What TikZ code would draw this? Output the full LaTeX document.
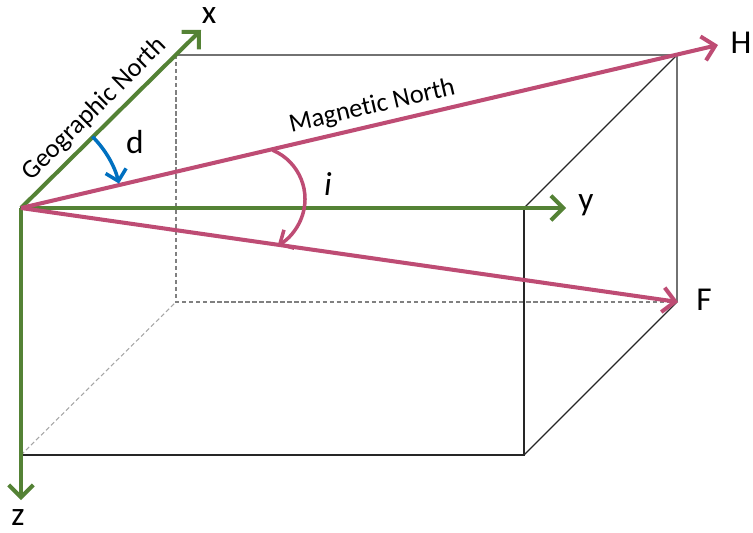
\documentclass[tikz,border=0pt]{standalone}
\usepackage{fontspec}
\setmainfont[Ligatures=NoCommon]{Carlito}
\usetikzlibrary{arrows.meta}
\definecolor{verde}{RGB}{84,130,53}
\definecolor{rosa}{RGB}{190,76,116}
\definecolor{blu}{RGB}{0,112,192}
\begin{document}
\begin{tikzpicture}[x=0.02cm,y=0.02cm,
        edge/.style={black!85,line width=0.7pt},
        hidden/.style={gray,line width=0.6pt,dash pattern=on 2.5pt off 1.5pt},
        axis/.style={verde,line width=2.3pt,-{Straight Barb[length=7pt,width=14pt]}},
        vec/.style={rosa,line width=2.3pt,-{Straight Barb[length=7pt,width=14pt]}},
        axlabel/.style={font=\fontsize{19}{22}\selectfont,inner sep=1pt},
        dirlabel/.style={font=\fontsize{15}{17}\selectfont,sloped,above,inner sep=3pt}]
        \useasboundingbox (0,0) rectangle (753,-533);

        % scatola
        \coordinate (O) at (21,-208);
        \coordinate (B) at (524,-208);
        \coordinate (C) at (524,-455);
        \coordinate (D) at (21,-455);
        \coordinate (E) at (176,-55);
        \coordinate (G) at (677,-55);
        \coordinate (K) at (677,-302);
        \coordinate (L) at (176,-302);
        \draw[hidden] (E) -- (L) -- (K);
        \draw[hidden,gray!70] (D) -- (L);
        \draw[edge] (O) rectangle (C);
        \draw[edge] (O) -- (E) -- (G) -- (K) -- (C);
        \draw[edge] (B) -- (G);

        % assi
        \coordinate (xtip) at (201,-30);
        \coordinate (ytip) at (566,-208);
        \coordinate (ztip) at (21,-500);
        \draw[axis] (O) -- (xtip) node[dirlabel,pos=0.48,black] (geo) {Geographic North};
        \draw[axis] (O) -- (ytip);
        \draw[axis] (O) -- (ztip);
        \node[axlabel] (xl) at (209,-16) {x};
        \node[axlabel] (yl) at (586,-205) {y};
        \node[axlabel] (zl) at (18,-518) {z};

        % campo
        \coordinate (Htip) at (718,-45);
        \coordinate (Ftip) at (678,-302);
        \draw[vec] (O) -- (Htip) node[dirlabel,pos=0.51,black] (mag) {Magnetic North};
        \draw[vec] (O) -- (Ftip);
        \node[axlabel] (Hl) at (741,-43) {H};
        \node[axlabel] (Fl) at (704,-300) {F};

        % angoli
        \draw[blu,line width=2pt,-{Straight Barb[length=6pt,width=12pt]}]
            ([shift={(45:101)}]O) arc (45:14:101);
        \node[axlabel] (dl) at (135,-142) {d};
        \coordinate (ic) at (252,-199);
        \draw[rosa,line width=2pt,-{Straight Barb[length=6pt,width=12pt]}]
            ([shift={(67:53)}]ic) arc (67:-61:53);
        \node[axlabel] (il) at (328,-184) {\itshape i};
    \end{tikzpicture}
\end{document}
